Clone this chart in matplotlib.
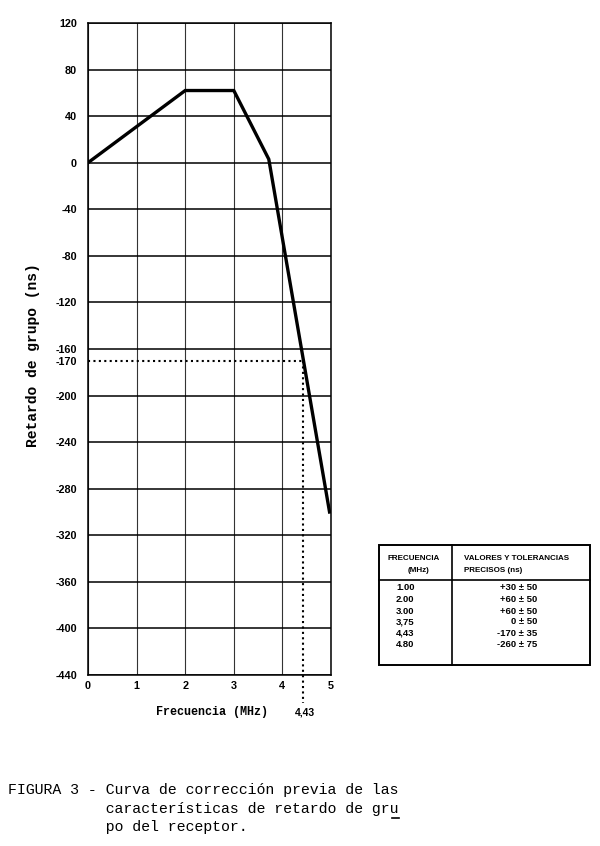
import matplotlib
matplotlib.use("Agg")
import matplotlib.pyplot as plt
from matplotlib.lines import Line2D
from matplotlib.patches import Rectangle

plt.rcParams['axes.unicode_minus'] = False

# ---- data ----
freq_mhz = [0.0, 2.0, 3.0, 3.72, 4.97]
delay_ns = [0, 62, 62, 3, -300]
x_ticks = [0, 1, 2, 3, 4, 5]
y_ticks = [120, 80, 40, 0, -40, -80, -120, -160, -200, -240, -280, -320, -360, -400, -440]
extra_y_tick = -170
mark_freq = 4.43
mark_delay = -170
mark_label = "4,43"

table_freq = ["1.00", "2.00", "3.00", "3,75", "4,43", "4.80"]
table_vals = ["+30 ± 50", "+60 ± 50", "+60 ± 50", "0 ± 50", "-170 ± 35", "-260 ± 75"]
table_head_left = ["FRECUENCIA", "(MHz)"]
table_head_right = ["VALORES Y TOLERANCIAS", "PRECISOS (ns)"]

caption = ["FIGURA 3 - Curva de corrección previa de las",
           "           características de retardo de gru",
           "           po del receptor."]

W, H = 600, 846
fig = plt.figure(figsize=(6.0, 8.46), dpi=100)

def fx(px):
    return px / W

def fy(py):
    return 1 - py / H

ax_l, ax_r, ax_t, ax_b = 88, 331, 23, 675
ax = fig.add_axes([fx(ax_l), fy(ax_b), (ax_r - ax_l) / W, (ax_b - ax_t) / H])
ax.set_xlim(0, 5)
ax.set_ylim(-440, 120)

ax.set_xticks(x_ticks)
ax.set_yticks(y_ticks)
ax.set_yticks([extra_y_tick], minor=True)
ax.set_yticklabels([str(v) for v in y_ticks])
ax.set_yticklabels([str(extra_y_tick)], minor=True)

for lab in ax.get_xticklabels() + ax.get_yticklabels() + ax.get_yticklabels(minor=True):
    lab.set_fontfamily("Liberation Sans")
    lab.set_fontweight("bold")
    lab.set_fontsize(7.8)

ax.tick_params(axis='both', which='both', length=0)
ax.tick_params(axis='y', which='both', pad=8)
ax.tick_params(axis='x', which='both', pad=4)

ax.grid(True, which='major', axis='y', color='black', lw=1.1)
ax.grid(True, which='major', axis='x', color='#333333', lw=0.8)
for s in ax.spines.values():
    s.set_color('black')
    s.set_linewidth(1.1)
ax.set_axisbelow(True)

ax.plot(freq_mhz, delay_ns, color='black', lw=2.4, solid_joinstyle='miter', zorder=5)

dots = (0, (1, 1.6))
ax.plot([0, mark_freq], [mark_delay, mark_delay], color='black', lw=1.5, ls=dots, zorder=4)
ax.plot([mark_freq, mark_freq], [mark_delay, -440 - 24], color='black', lw=1.5, ls=dots,
        zorder=4, clip_on=False)
ax.annotate(mark_label, xy=(mark_freq, 0), xycoords=('data', 'axes fraction'),
            xytext=(1, -27), textcoords='offset points', ha='center', va='center',
            fontfamily="Liberation Sans", fontweight='bold', fontsize=7.5)

fig.text(fx(212), fy(712), "Frecuencia (MHz)", ha='center', va='center',
         fontfamily="Liberation Mono", fontweight='bold', fontsize=8.5)
fig.text(fx(33), fy(355), "Retardo de grupo (ns)", ha='center', va='center', rotation=90,
         fontfamily="Liberation Mono", fontweight='bold', fontsize=10.5)

# ---- table ----
t_l, t_r, t_t, t_b, t_div, t_sep = 379, 590, 545, 665, 452, 580
fig.patches.append(Rectangle((fx(t_l), fy(t_b)), (t_r - t_l) / W, (t_b - t_t) / H,
                             transform=fig.transFigure, fill=False, ec='black', lw=1.4))
fig.lines.append(Line2D([fx(t_l), fx(t_r)], [fy(t_sep), fy(t_sep)],
                        transform=fig.transFigure, color='black', lw=1.2))
fig.lines.append(Line2D([fx(t_div), fx(t_div)], [fy(t_t), fy(t_b)],
                        transform=fig.transFigure, color='black', lw=1.2))

hfont = dict(fontfamily="Liberation Sans", fontweight='bold', fontsize=5.8)
fig.text(fx(414), fy(559), table_head_left[0], ha='center', va='center', **hfont)
fig.text(fx(418), fy(570), table_head_left[1], ha='center', va='center', **hfont)
fig.text(fx(464), fy(559), table_head_right[0], ha='left', va='center', **hfont)
fig.text(fx(464), fy(570), table_head_right[1], ha='left', va='center', **hfont)

row_y = [587, 599, 611, 622, 633, 644]
vfont = dict(fontfamily="Liberation Sans", fontweight='bold', fontsize=6.8)
for yv, f, v in zip(row_y, table_freq, table_vals):
    fig.text(fx(396), fy(yv), f, ha='left', va='center', **vfont)
    fig.text(fx(537), fy(yv), v, ha='right', va='center', **vfont)

# ---- caption ----
cap_y = [790, 809, 827]
cap_size = 10.7
cfont = dict(fontfamily="Liberation Mono", fontsize=cap_size)
for yv, line in zip(cap_y, caption):
    fig.text(fx(8), fy(yv), line, ha='left', va='center', **cfont)
# underline on the "u" of "gru" (monospace advance = 0.6 em)
adv = 0.6 * cap_size * 100 / 72
u_idx = len(caption[1]) - 1
ux0 = 8 + u_idx * adv + 1
ux1 = ux0 + adv - 2
fig.lines.append(Line2D([fx(ux0), fx(ux1)], [fy(cap_y[1] + 9), fy(cap_y[1] + 9)],
                        transform=fig.transFigure, color='black', lw=1.2))

fig.savefig("out.png", dpi=100)
